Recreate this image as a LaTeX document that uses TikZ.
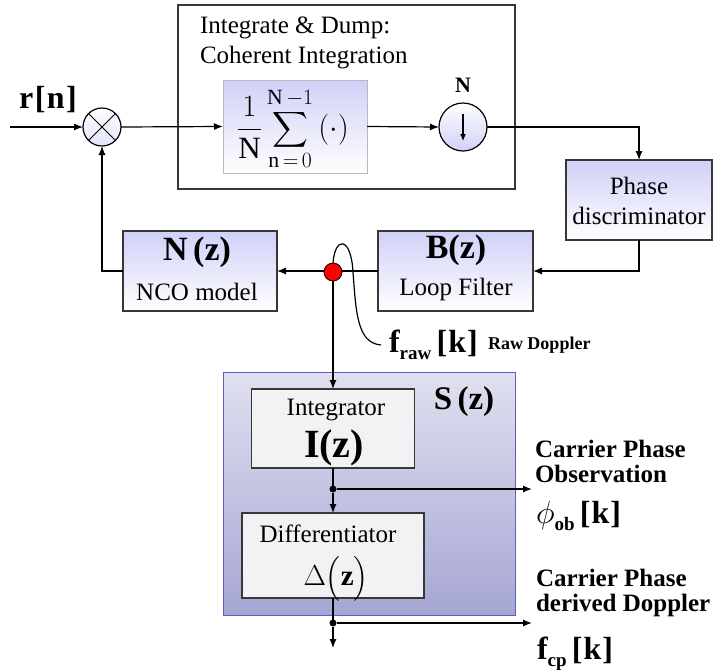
\RequirePackage{fix-cm}
\documentclass[tikz,border=0pt]{standalone}
\usepackage{amsmath}
\usepackage{fontspec}
\setmainfont{Liberation Serif}
\usetikzlibrary{arrows.meta}
\definecolor{lav}{RGB}{208,208,248}
\definecolor{sTop}{RGB}{224,224,240}
\definecolor{sBot}{RGB}{166,166,212}
\definecolor{sEdge}{RGB}{96,96,190}
\definecolor{edge}{RGB}{55,55,55}
\definecolor{ibox}{RGB}{243,243,246}
\begin{document}
\begin{tikzpicture}[x=1pt,y=-1pt,
  every node/.style={inner sep=0pt,outer sep=0pt},
  blk/.style={draw=edge,line width=1.2pt,rectangle,top color=lav,bottom color=white},
  gridbox/.style={draw=edge,line width=1.2pt,rectangle,fill=ibox,
     path picture={\draw[white!88!gray,line width=0.4pt,step=5pt]
       (path picture bounding box.south west) grid (path picture bounding box.north east);}},
  wire/.style={line width=1.2pt,draw=black},
  conn/.style={wire,-{Latex[length=9pt,width=7pt]}},
  rgtxt/.style={font=\fontsize{25}{30}\selectfont},
  bdtxt/.style={font=\fontsize{25}{25}\selectfont\bfseries},
  jdot/.style={circle,fill=black,minimum size=7pt}]
\useasboundingbox (0,0) rectangle (717,670);

% Integrate & Dump block
\node[draw=edge,line width=1.2pt,fill=white,minimum width=337pt,minimum height=184pt] (idbox) at (346.5,97) {};
\node[rgtxt,anchor=base west] (t1) at (200,33) {Integrate \& Dump:};
\node[rgtxt,anchor=base west] (t2) at (200,63) {Coherent Integration};
\node[draw=gray!55,line width=0.6pt,rectangle,top color=lav,bottom color=white,minimum width=144pt,minimum height=93pt] (sumb) at (295,126.5) {};
\node (sumf) at (293,129) {\fontsize{31}{34}\selectfont$\displaystyle\frac{1}{\mathrm{N}}\sum_{\mathrm{n}\,=\,0}^{\mathrm{N}\,-1}\,(\cdot)$};
\node[circle,draw=black,line width=1.2pt,minimum size=48pt,top color=white,bottom color=lav] (ds) at (463,127) {};
\node[font=\fontsize{22}{24}\selectfont\bfseries] (dsN) at (463,85) {N};
\coordinate (dsa) at (463,114);
\coordinate (dsb) at (463,141);
\draw[line width=1.1pt,-{Latex[length=7pt,width=6pt]}] (dsa) -- (dsb);

% multiplier
\node[circle,draw=black,line width=1.2pt,minimum size=38pt,top color=white,bottom color=lav!60] (mult) at (102,127) {};
\draw[line width=1pt] (mult.north west) -- (mult.south east) (mult.north east) -- (mult.south west);
\node[font=\fontsize{32}{34}\selectfont\bfseries] (rn) at (48,100) {r\kern1.5pt[\kern1.5pt n\kern1.5pt]};
\coordinate (rin) at (10,127);

% phase discriminator
\node[blk,minimum width=146pt,minimum height=80pt] (pd) at (639,200) {};
\node[rgtxt,align=center] (pdt) at (639,201) {Phase\\discriminator};

% loop filter
\node[blk,minimum width=155pt,minimum height=80pt] (lf) at (455.5,271) {};
\node[font=\fontsize{34}{36}\selectfont\bfseries] (lfa) at (456,250) {B(z)};
\node[rgtxt] (lfb) at (456,289) {Loop Filter};

% NCO
\node[blk,minimum width=154pt,minimum height=80pt] (nco) at (200,271) {};
\node[font=\fontsize{34}{36}\selectfont\bfseries] (ncoa) at (197,252) {N\,(z)};
\node[rgtxt] (ncob) at (197,292) {NCO model};

% S(z) block
\node[draw=sEdge,line width=1pt,rectangle,top color=sTop,bottom color=sBot,minimum width=292pt,minimum height=243pt] (sbox) at (369,493.5) {};
\node[font=\fontsize{33}{35}\selectfont\bfseries] (slab) at (464,402) {S\,(z)};
\node[gridbox,minimum width=163pt,minimum height=79pt] (integ) at (333,428.5) {};
\node[rgtxt] (intt) at (336,410) {Integrator};
\node[font=\fontsize{40}{42}\selectfont\bfseries] (intz) at (334,448) {I(z)};
\node[gridbox,minimum width=182pt,minimum height=85pt] (diff) at (333,555.5) {};
\node[rgtxt] (difft) at (328,534) {Differentiator};
\node[font=\fontsize{29}{31}\selectfont] (diffz) at (336,576) {$\Delta\smash{\bigl(}\mathbf{z}\smash{\bigr)}$};

% connectors
\draw[conn] (rin) -- (mult.west);
\draw[conn] (mult.east) -- (sumb.west);
\draw[conn] (sumb.east) -- (ds.west);
\draw[conn] (ds.east) -| (pd.north);
\draw[conn] (pd.south) |- (lf.east);
\draw[conn] (lf.west) -- (nco.east);
\draw[conn] (nco.west) -| (mult.south);

\node[circle,draw=black,line width=0.8pt,fill=red,minimum size=18pt] (rd) at (333,272) {};
\draw[conn] (rd.south) -- (integ.north);
\coordinate (rawend) at (381,345);
\draw[line width=1.2pt] (rd.north) .. controls (335,236) and (351,236) .. (353,272)
   .. controls (356,312) and (357,343) .. (rawend);

\node[jdot] (j1) at (333,489) {};
\node[jdot] (j2) at (333,623) {};
\coordinate (o1) at (532,489);
\coordinate (o2) at (532,623);
\coordinate (o3) at (333,648);
\draw[wire] (integ.south) -- (j1);
\draw[conn] (j1) -- (diff.north);
\draw[conn] (j1) -- (o1);
\draw[wire] (diff.south) -- (j2);
\draw[conn] (j2) -- (o2);
\draw[conn] (j2) -- (o3);

% labels
\node[anchor=west,font=\fontsize{32}{34}\selectfont\bfseries] (fraw) at (389,345) {f\raisebox{-7pt}{\fontsize{19}{20}\selectfont raw}\,[\kern1pt k\kern1pt]};
\node[anchor=west,font=\fontsize{18}{20}\selectfont\bfseries] (rawd) at (488,345) {Raw Doppler};
\node[bdtxt,anchor=north west,align=left] (cpo) at (535,440) {Carrier Phase\\Observation};
\node[anchor=west,font=\fontsize{32}{34}\selectfont\bfseries] (phob) at (536,516) {$\phi$\raisebox{-7pt}{\fontsize{19}{20}\selectfont ob}\,[\kern1pt k\kern1pt]};
\node[bdtxt,anchor=north west,align=left] (cpd) at (536,569) {Carrier Phase\\derived Doppler};
\node[anchor=west,font=\fontsize{32}{34}\selectfont\bfseries] (fcp) at (537,654) {f\raisebox{-7pt}{\fontsize{19}{20}\selectfont cp}\,[\kern1pt k\kern1pt]};
\end{tikzpicture}
\end{document}
